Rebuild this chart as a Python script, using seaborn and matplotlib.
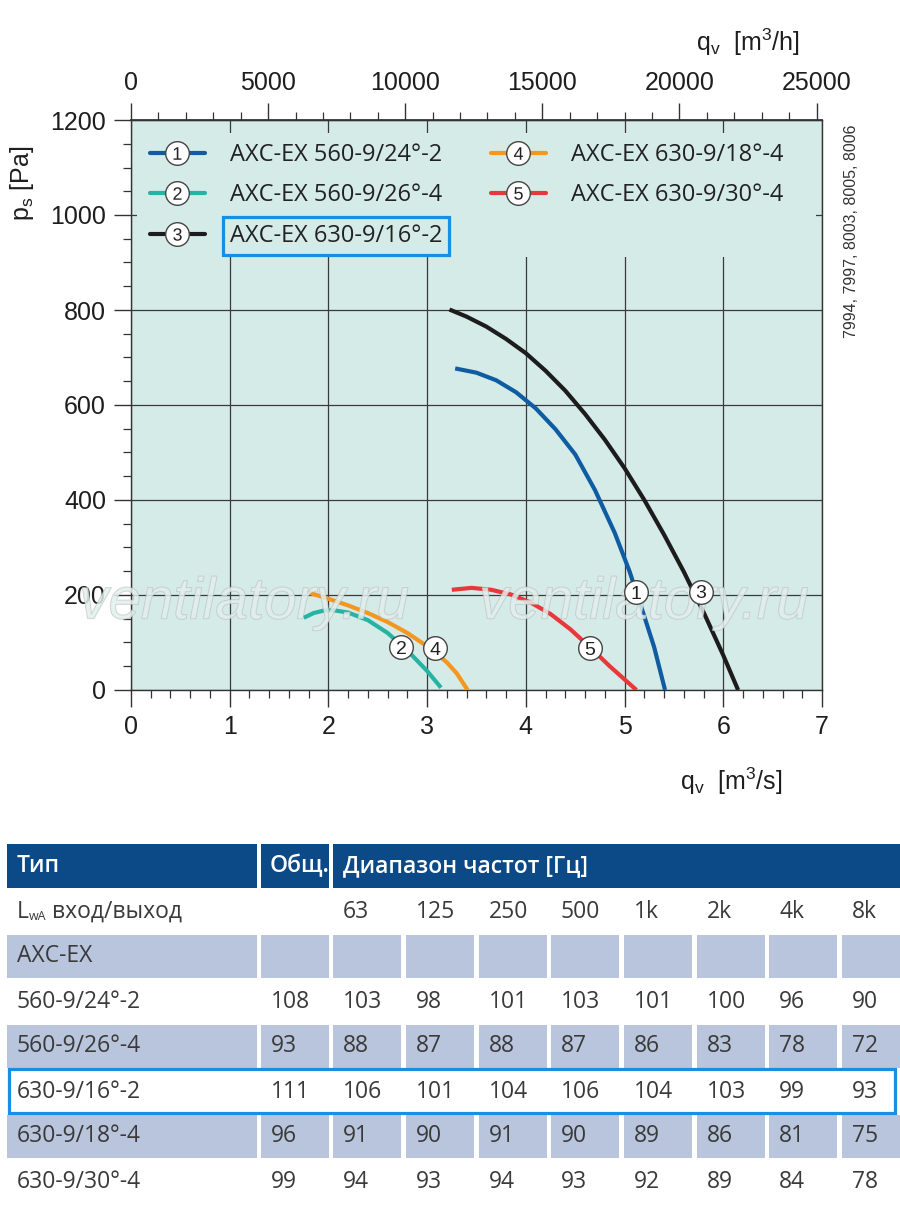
import pandas as pd
import matplotlib
matplotlib.use('Agg')
import matplotlib.pyplot as plt
import matplotlib.patheffects as pe
from matplotlib.lines import Line2D
from matplotlib.legend_handler import HandlerTuple
from matplotlib.patches import Rectangle
from matplotlib.ticker import MultipleLocator
import seaborn as sns

# fan curves: q_v [m3/s] -> p_s [Pa]
q1 = [3.284, 3.5, 3.7, 3.9, 4.1, 4.3, 4.5, 4.7, 4.9, 5.05, 5.2, 5.3, 5.41]
p1 = [677, 668, 652, 627, 593, 549, 496, 421, 331, 250, 155, 90, 0]
q2 = [1.75, 1.85, 1.95, 2.05, 2.2, 2.4, 2.6, 2.8, 3.0, 3.14]
p2 = [152, 162, 167, 168, 163, 147, 120, 83, 40, 5]
q3 = [3.226, 3.4, 3.6, 3.8, 4.0, 4.2, 4.4, 4.6, 4.8, 5.0, 5.2, 5.4, 5.6, 5.8, 6.0, 6.15]
p3 = [801, 786, 765, 739, 709, 672, 630, 581, 527, 467, 400, 327, 249, 164, 73, 0]
q4 = [1.8, 2.0, 2.2, 2.4, 2.6, 2.8, 3.0, 3.1, 3.2, 3.3, 3.41]
p4 = [205, 192, 178, 162, 143, 120, 92, 76, 58, 35, 0]
q5 = [3.25, 3.45, 3.65, 3.85, 4.05, 4.25, 4.45, 4.65, 4.85, 5.12]
p5 = [211, 215, 211, 201, 184, 160, 128, 90, 50, 0]

names = ['AXC-EX 560-9/24°-2', 'AXC-EX 560-9/26°-4', 'AXC-EX 630-9/16°-2',
         'AXC-EX 630-9/18°-4', 'AXC-EX 630-9/30°-4']
colors = ['#0f5ca3', '#27b3a3', '#1c1c1c', '#f5961f', '#e8383a']

# where the numbered circles sit on the curves
mark_q = [5.12, 2.74, 5.77, 3.08, 4.65]
mark_p = [206, 90, 207, 88, 88]

# sound power table
types = ['560-9/24°-2', '560-9/26°-4', '630-9/16°-2', '630-9/18°-4', '630-9/30°-4']
total = [108, 93, 111, 96, 99]
bands = ['63', '125', '250', '500', '1k', '2k', '4k', '8k']
levels = [
    [103, 98, 101, 103, 101, 100, 96, 90],
    [88, 87, 88, 87, 86, 83, 78, 72],
    [106, 101, 104, 106, 104, 103, 99, 93],
    [91, 90, 91, 90, 89, 86, 81, 75],
    [94, 93, 94, 93, 92, 89, 84, 78],
]

sns.set_theme(style='ticks')
plt.rcParams['font.family'] = ['Liberation Sans', 'DejaVu Sans']
plt.rcParams['mathtext.fontset'] = 'custom'
plt.rcParams['mathtext.rm'] = 'Liberation Sans'
plt.rcParams['mathtext.it'] = 'Liberation Sans:italic'
plt.rcParams['mathtext.default'] = 'regular'

bg = '#d5ebe7'

fig = plt.figure(figsize=(9, 12.12), dpi=100)
fig.patch.set_facecolor('white')
ax = fig.add_axes([131 / 900, 1 - 690 / 1212, 691 / 900, 570 / 1212])
ax.set_facecolor(bg)

df = pd.concat([pd.DataFrame({'q': q, 'p': p, 'fan': n})
                for q, p, n in zip([q1, q2, q3, q4, q5], [p1, p2, p3, p4, p5], names)])
sns.lineplot(data=df, x='q', y='p', hue='fan', palette=dict(zip(names, colors)),
             sort=False, estimator=None, lw=3, legend=False, ax=ax, zorder=3,
             solid_joinstyle='round', solid_capstyle='butt')

ax.set_xlim(0, 7)
ax.set_ylim(0, 1200)
ax.set_xticks(range(0, 8))
ax.set_yticks(range(0, 1201, 200))
ax.xaxis.set_minor_locator(MultipleLocator(0.2))
ax.yaxis.set_minor_locator(MultipleLocator(50))
ax.grid(True, which='major', color='#3a3a3a', lw=0.9)
ax.set_axisbelow(True)
ax.tick_params(which='major', direction='out', length=12, width=1, color='#333',
               labelsize=18, labelcolor='#1e1e1e', pad=6)
ax.tick_params(which='minor', direction='out', length=6, width=0.9, color='#333')
for s in ax.spines.values():
    s.set_color('#333')
    s.set_linewidth(1)

sec = ax.secondary_xaxis('top', functions=(lambda q: q * 3600, lambda q: q / 3600))
sec.set_xticks(range(0, 25001, 5000))
sec.xaxis.set_minor_locator(MultipleLocator(1000))
sec.tick_params(which='major', direction='out', length=12, width=1, color='#333',
                labelsize=18, labelcolor='#1e1e1e', pad=6)
sec.tick_params(which='minor', direction='out', length=6, width=0.9, color='#333')
sec.spines['top'].set_color('#333')

ax.set_xlabel('q$_v$  [m$^3$/s]', fontsize=18, color='#1e1e1e', va='center')
ax.xaxis.set_label_coords(0.868, -0.161)
ax.set_ylabel('p$_s$ [Pa]', fontsize=18, color='#1e1e1e', va='center')
ax.yaxis.set_label_coords(-0.158, 0.889)
ax.text(0.893, 1.137, 'q$_v$  [m$^3$/h]', transform=ax.transAxes, fontsize=18,
        color='#1e1e1e', ha='center', va='center')

# numbered circles on the curves
for i, (mq, mp) in enumerate(zip(mark_q, mark_p)):
    ax.plot(mq, mp, 'o', ms=17, mfc='white', mec='#444', mew=1, zorder=5)
    ax.text(mq, mp, str(i + 1), ha='center', va='center_baseline', fontsize=14,
            color='#222', zorder=6)

# legend area hides the grid
ax.add_patch(Rectangle((0.009, 0.76), 0.982, 0.217, transform=ax.transAxes,
                       fc=bg, ec='none', zorder=1))
handles = [(Line2D([], [], color=c, lw=3),
            Line2D([], [], ls='', marker='o', ms=17, mfc='white', mec='#444', mew=1),
            Line2D([], [], ls='', marker=f'${i + 1}$', ms=9, color='#222', mec='#222', mew=0))
           for i, c in enumerate(colors)]
leg = ax.legend(handles, names, handler_map={tuple: HandlerTuple(ndivide=1)}, ncol=2,
                frameon=False, loc='upper left', bbox_to_anchor=(0.027, 0.96),
                prop={'family': 'Open Sans', 'size': 17}, handlelength=2.35,
                handletextpad=1.05, columnspacing=2.05, labelspacing=0.7,
                borderaxespad=0, borderpad=0)
for t in leg.get_texts():
    t.set_color('#222')
leg.get_texts()[2].set_bbox(dict(boxstyle='square,pad=0.3', fc='none', ec='#1a8fe0', lw=2.3))

# watermark
for wx in [1.15, 5.2]:
    ax.text(wx, 182, 'ventilatory.ru', fontsize=42, style='italic', ha='center', va='center',
            color='#e2f0ed', alpha=0.6, zorder=4, clip_on=False,
            path_effects=[pe.Stroke(linewidth=0.9, foreground='#b4b4b4'), pe.Normal()])

fig.text(851 / 900, 1 - 231 / 1212, '7994, 7997, 8003, 8005, 8006', rotation=90,
         fontsize=11.5, color='#333', ha='center', va='center')

# table
tax = fig.add_axes([0, 1 - 1204 / 1212, 1, 360 / 1212])
tax.set_xlim(0, 900)
tax.set_ylim(8, 0)
tax.axis('off')
col_x = [7, 261, 333, 406, 479, 551, 624, 697, 769, 842]
col_w = [250, 68, 68, 68, 68, 68, 68, 68, 68, 60]
head = '#0b4a87'
band = '#b9c5dc'
txt = '#3a3a3a'
tfont = {'family': ['Open Sans', 'DejaVu Sans'], 'size': 16.5}

for x0, w in [(7, 250), (261, 68), (333, 567)]:
    tax.add_patch(Rectangle((x0, 0.0), w, 0.98, fc=head, ec='none'))
tax.text(17, 0.5, 'Тип', color='white', fontweight='semibold', va='center', **tfont)
tax.text(270, 0.5, 'Общ.', color='white', fontweight='semibold', va='center', **tfont)
tax.text(343, 0.5, 'Диапазон частот [Гц]', color='white', fontweight='semibold',
         va='center', **tfont)

for r in [2, 4, 6]:
    for x0, w in zip(col_x, col_w):
        tax.add_patch(Rectangle((x0, r + 0.02), w, 0.96, fc=band, ec='none'))

tL = tax.text(17, 1.5, 'L', color=txt, va='center', **tfont)
tw = tax.annotate('wA', xy=(1, 0), xycoords=tL, va='bottom', ha='left', color=txt,
                  fontsize=9, family=['Open Sans', 'DejaVu Sans'])
tax.annotate(' вход/выход', xy=(1, 0), xycoords=(tw, tL), va='bottom', ha='left',
             color=txt, fontsize=16.5, family=['Open Sans', 'DejaVu Sans'])
for x0, b in zip(col_x[2:], bands):
    tax.text(x0 + 10, 1.5, b, color=txt, va='center', **tfont)
tax.text(17, 2.5, 'AXC-EX', color=txt, va='center', **tfont)

for i, (tp, tot, lv) in enumerate(zip(types, total, levels)):
    r = 3 + i + 0.5
    tax.text(17, r, tp, color=txt, va='center', **tfont)
    tax.text(col_x[1] + 10, r, str(tot), color=txt, va='center', **tfont)
    for x0, v in zip(col_x[2:], lv):
        tax.text(x0 + 10, r, str(v), color=txt, va='center', **tfont)

tax.add_patch(Rectangle((9, 5.0), 886, 0.97, fill=False, ec='#1a8fe0', lw=2.3))

fig.savefig('out.png', dpi=100, facecolor='white')
